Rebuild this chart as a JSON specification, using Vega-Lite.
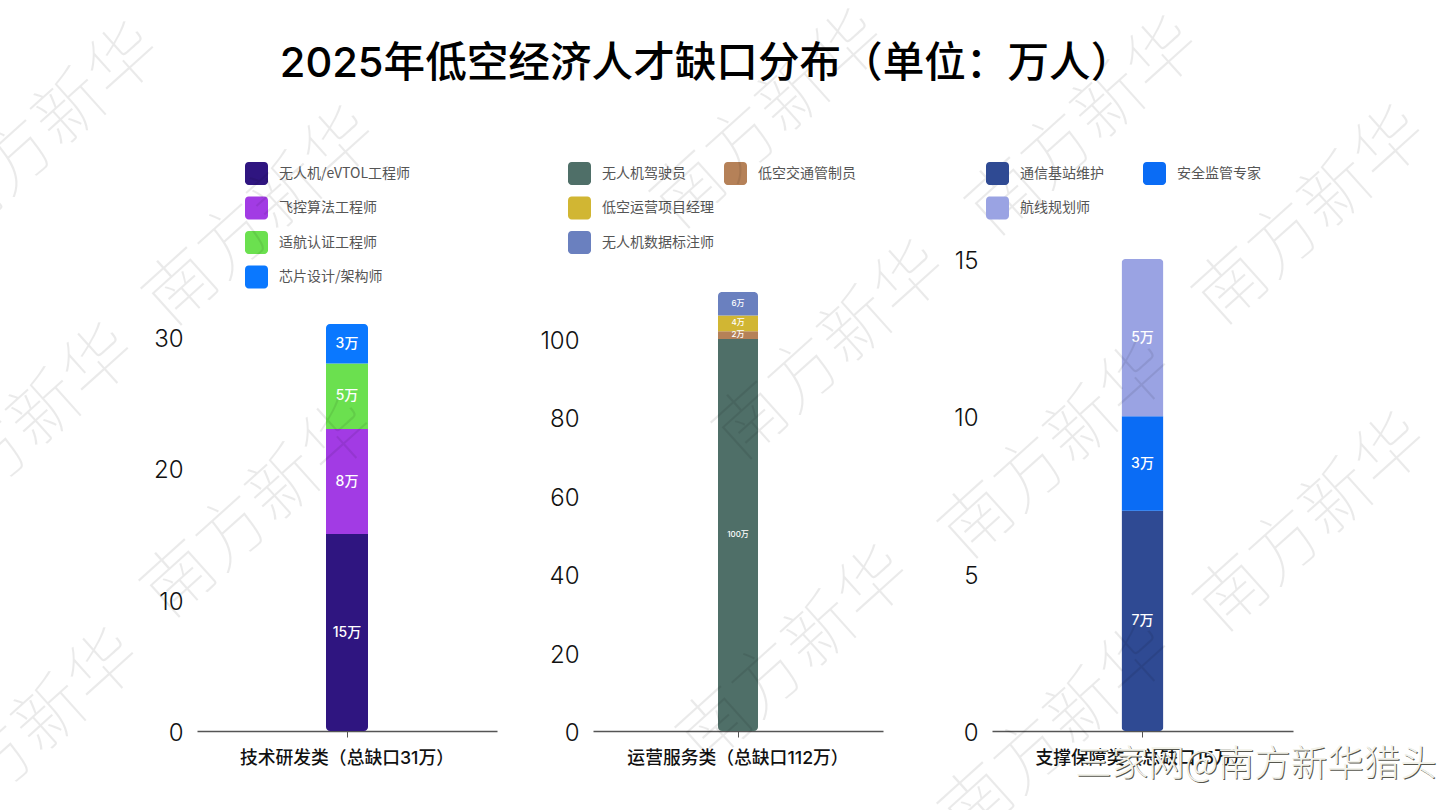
{
"$schema":"https://vega.github.io/schema/vega-lite/v6.json",
"padding":{"left":-109,"top":-1,"right":35,"bottom":5},
"background":"white",
"bounds":"flush",
"spacing":0,
"resolve":{"scale":{"color":"independent"}},
"config":{"view":{"stroke":null},"font":"Inter, Noto Sans CJK SC",
"axisY":{"domain":false,"ticks":false,"grid":false,"labelFontSize":24,"labelFontWeight":300,"labelColor":"#111111","labelPadding":14,"title":null},
"axisX":{"domainColor":"#555555","domainWidth":1.5,"tickColor":"#555555","tickSize":6,"tickWidth":1,"labelFontSize":17.8,"labelFontWeight":500,"labelColor":"#111111","labelPadding":12,"labelAngle":0,"labelLimit":400,"title":null,"grid":false},
"legend":{"orient":"none","title":null,"symbolSize":529,"symbolStrokeWidth":0,"symbolOpacity":1,"labelFontSize":14,"labelColor":"#555555","labelOffset":11,"rowPadding":11.5,"labelFont":"Noto Sans CJK SC",
"symbolType":"M-0.68,-1H0.68A0.32,0.32,0,0,1,1,-0.68V0.68A0.32,0.32,0,0,1,0.68,1H-0.68A0.32,0.32,0,0,1,-1,0.68V-0.68A0.32,0.32,0,0,1,-0.68,-1Z"}},
"title":{"text":"2025年低空经济人才缺口分布（单位：万人）","fontSize":41.6,"fontWeight":500,"color":"#000000","anchor":"middle","frame":"group","dx":509,"offset":-86,"font":"Inter, Noto Sans CJK SC"},
"datasets":{
"p1":[
{"group":"技术研发类（总缺口31万）","role":"无人机/eVTOL工程师","value":15,"label":"15万","ord":1},
{"group":"技术研发类（总缺口31万）","role":"飞控算法工程师","value":8,"label":"8万","ord":2},
{"group":"技术研发类（总缺口31万）","role":"适航认证工程师","value":5,"label":"5万","ord":3},
{"group":"技术研发类（总缺口31万）","role":"芯片设计/架构师","value":3,"label":"3万","ord":4}],
"p2":[
{"group":"运营服务类（总缺口112万）","role":"无人机驾驶员","value":100,"label":"100万","ord":1},
{"group":"运营服务类（总缺口112万）","role":"低空交通管制员","value":2,"label":"2万","ord":2},
{"group":"运营服务类（总缺口112万）","role":"低空运营项目经理","value":4,"label":"4万","ord":3},
{"group":"运营服务类（总缺口112万）","role":"无人机数据标注师","value":6,"label":"6万","ord":4}],
"p3":[
{"group":"支撑保障类（总缺口15万）","role":"通信基站维护","value":7,"label":"7万","ord":1},
{"group":"支撑保障类（总缺口15万）","role":"安全监管专家","value":3,"label":"3万","ord":2},
{"group":"支撑保障类（总缺口15万）","role":"航线规划师","value":5,"label":"5万","ord":3}],
"wm":[
{"wx":47,"wy":134,"t":"南方新华"},{"wx":263,"wy":218,"t":"南方新华"},{"wx":22,"wy":435,"t":"南方新华"},{"wx":261,"wy":510,"t":"南方新华"},{"wx":27,"wy":740,"t":"南方新华"},{"wx":771,"wy":121,"t":"南方新华"},{"wx":1086,"wy":128,"t":"南方新华"},{"wx":1313,"wy":217,"t":"南方新华"},{"wx":833,"wy":352,"t":"南方新华"},{"wx":1059,"wy":451,"t":"南方新华"},{"wx":1314,"wy":524,"t":"南方新华"},{"wx":797,"wy":657,"t":"南方新华"},{"wx":1059,"wy":733,"t":"南方新华"}],
"credit":[{"wx":1257,"wy":765,"t":"三家网@南方新华猎头"}]
},
"hconcat":[
{"width":300,"height":600,"data":{"name":"p1"},"layer":[
{"mark":{"type":"bar","cornerRadius":4,"size":42},"encoding":{
"x":{"field":"group","type":"nominal","axis":{"title":null}},
"y":{"field":"value","type":"quantitative","stack":"zero","scale":{"domain":[0,45.7],"nice":false},"axis":{"values":[0,10,20,30],"labelOffset":2.5}},
"order":{"field":"ord"},
"color":{"field":"role","type":"nominal","scale":{"domain":["无人机/eVTOL工程师","飞控算法工程师","适航认证工程师","芯片设计/架构师"],"range":["#2F1580","#A23BE4","#6BE04F","#0A78FF"]},"legend":{"legendX":48,"legendY":31,"direction":"vertical"}}}},
{"mark":{"type":"text","color":"white","fontSize":14,"fontWeight":500},"encoding":{
"x":{"field":"group","type":"nominal"},
"y":{"field":"value","type":"quantitative","stack":"zero","bandPosition":0.5},
"order":{"field":"ord"},
"text":{"field":"label"}}}]},
{"width":96,"height":600,"data":{"values":[]},"mark":"text"},
{"width":290,"height":600,"data":{"name":"p2"},"layer":[
{"mark":{"type":"bar","cornerRadius":4,"size":40},"encoding":{
"x":{"field":"group","type":"nominal","axis":{"title":null}},
"y":{"field":"value","type":"quantitative","stack":"zero","scale":{"domain":[0,153.06],"nice":false},"axis":{"values":[0,20,40,60,80,100],"labelOffset":2.5}},
"order":{"field":"ord"},
"color":{"field":"role","type":"nominal","scale":{"domain":["无人机驾驶员","低空运营项目经理","无人机数据标注师","低空交通管制员"," "],"range":["#4F6F68","#D1B633","#6A80BF","#B58158","rgba(0,0,0,0)"]},"legend":{"legendX":-25,"legendY":31,"direction":"vertical","columns":2,"columnPadding":10}}}},
{"mark":{"type":"text","color":"white","fontSize":8,"fontWeight":500},"encoding":{
"x":{"field":"group","type":"nominal"},
"y":{"field":"value","type":"quantitative","stack":"zero","bandPosition":0.5},
"order":{"field":"ord"},
"text":{"field":"label"}}}]},
{"width":109,"height":600,"data":{"values":[]},"mark":"text"},
{"width":301,"height":600,"resolve":{"scale":{"x":"independent","y":"independent"}},"layer":[
{"data":{"name":"p3"},"layer":[
{"mark":{"type":"bar","cornerRadius":4,"size":42},"encoding":{
"x":{"field":"group","type":"nominal","axis":{"title":null}},
"y":{"field":"value","type":"quantitative","stack":"zero","scale":{"domain":[0,19.07],"nice":false},"axis":{"values":[0,5,10,15],"labelOffset":2.5}},
"order":{"field":"ord"},
"color":{"field":"role","type":"nominal","scale":{"domain":["通信基站维护","安全监管专家","航线规划师"],"range":["#2F4A93","#0A6CF5","#9AA3E3"]},"legend":{"legendX":-6,"legendY":31,"direction":"horizontal","columns":2,"columnPadding":39}}}},
{"mark":{"type":"text","color":"white","fontSize":14,"fontWeight":500},"encoding":{
"x":{"field":"group","type":"nominal"},
"y":{"field":"value","type":"quantitative","stack":"zero","bandPosition":0.5},
"order":{"field":"ord"},
"text":{"field":"label"}}}]},
{"data":{"name":"wm"},"mark":{"type":"text","font":"Noto Sans CJK SC","fontWeight":100,"fontSize":71,"angle":-42,"color":"#000000","opacity":0.08,"clip":false},"encoding":{
"x":{"field":"wx","type":"quantitative","scale":{"domain":[993,1294],"range":[0,301],"nice":false,"zero":false},"axis":null},
"y":{"field":"wy","type":"quantitative","scale":{"domain":[131,731],"range":[0,600],"nice":false,"zero":false},"axis":null},
"text":{"field":"t"}}},
{"data":{"name":"credit"},"mark":{"type":"text","font":"Noto Sans CJK SC","fontWeight":300,"fontSize":36.5,"color":"#55554c","dx":1,"dy":1},"encoding":{
"x":{"field":"wx","type":"quantitative","scale":{"domain":[993,1294],"range":[0,301],"nice":false,"zero":false},"axis":null},
"y":{"field":"wy","type":"quantitative","scale":{"domain":[131,731],"range":[0,600],"nice":false,"zero":false},"axis":null},
"text":{"field":"t"}}},
{"data":{"name":"credit"},"mark":{"type":"text","font":"Noto Sans CJK SC","fontWeight":300,"fontSize":36.5,"color":"#f2f2ea"},"encoding":{
"x":{"field":"wx","type":"quantitative","scale":{"domain":[993,1294],"range":[0,301],"nice":false,"zero":false},"axis":null},
"y":{"field":"wy","type":"quantitative","scale":{"domain":[131,731],"range":[0,600],"nice":false,"zero":false},"axis":null},
"text":{"field":"t"}}}
]}
]
}
